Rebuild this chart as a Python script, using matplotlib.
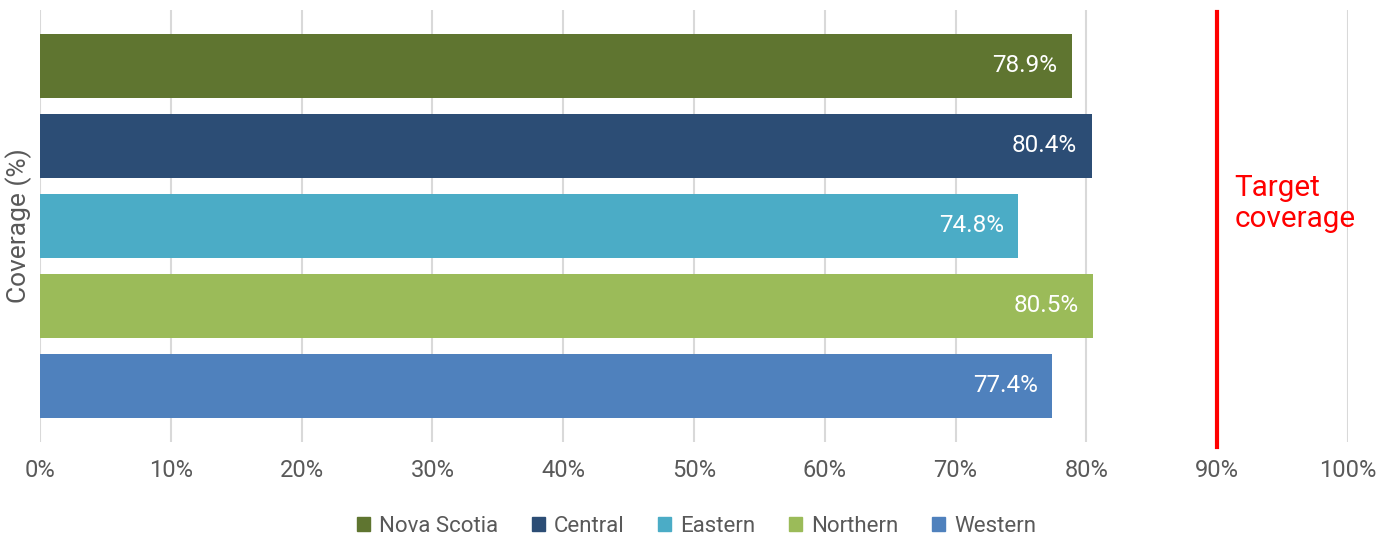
import matplotlib.pyplot as plt
from matplotlib.patches import Patch

plt.rcParams['font.family'] = ['Roboto', 'DejaVu Sans']

regions = ["Nova Scotia", "Central", "Eastern", "Northern", "Western"]
coverage = [78.9, 80.4, 74.8, 80.5, 77.4]
colors = ["#5F7530", "#2C4D75", "#4BACC6", "#9BBB59", "#4F81BD"]
target = 90
xticks = [0, 10, 20, 30, 40, 50, 60, 70, 80, 90, 100]

gray = "#595959"

fig = plt.figure(figsize=(13.93, 5.37), dpi=100)
ax = fig.add_axes([40 / 1393, 95 / 537, 1308 / 1393, 432 / 537])

ypos = list(range(len(regions)))[::-1]
bars = ax.barh(ypos, coverage, height=0.8, color=colors, zorder=2)

for b, v in zip(bars, coverage):
    ax.text(v - 1.1, b.get_y() + b.get_height() / 2, f"{v}%",
            ha="right", va="center", color="white", fontsize=17.5)

ax.set_xlim(0, 100)
ax.set_ylim(-0.7, 4.7)
ax.set_xticks(xticks)
ax.set_xticklabels([f"{t}%" for t in xticks], fontsize=17, color=gray)
ax.set_yticks([])
ax.tick_params(axis="x", length=0, pad=12)
ax.grid(axis="x", color="#D9D9D9", linewidth=1.5, zorder=0)
for s in ax.spines.values():
    s.set_visible(False)

ax.set_ylabel("Coverage (%)", fontsize=19, color=gray, labelpad=6)

ax.plot([target, target], [-0.76, 4.68], color="red", linewidth=3, zorder=3,
        clip_on=False)
ax.text(target + 1.3, 2.28, "Target\ncoverage", color="red", fontsize=21.3,
        ha="left", va="center", linespacing=1.15)

handles = [Patch(color=c, label=r) for c, r in zip(colors, regions)]
fig.legend(handles=handles, loc="center", bbox_to_anchor=(0.5, 11 / 537),
           ncol=5, frameon=False, fontsize=16, handlelength=0.6,
           handleheight=0.6, handletextpad=0.4, columnspacing=1.5,
           labelcolor=gray)

fig.savefig("out.png", dpi=100)
